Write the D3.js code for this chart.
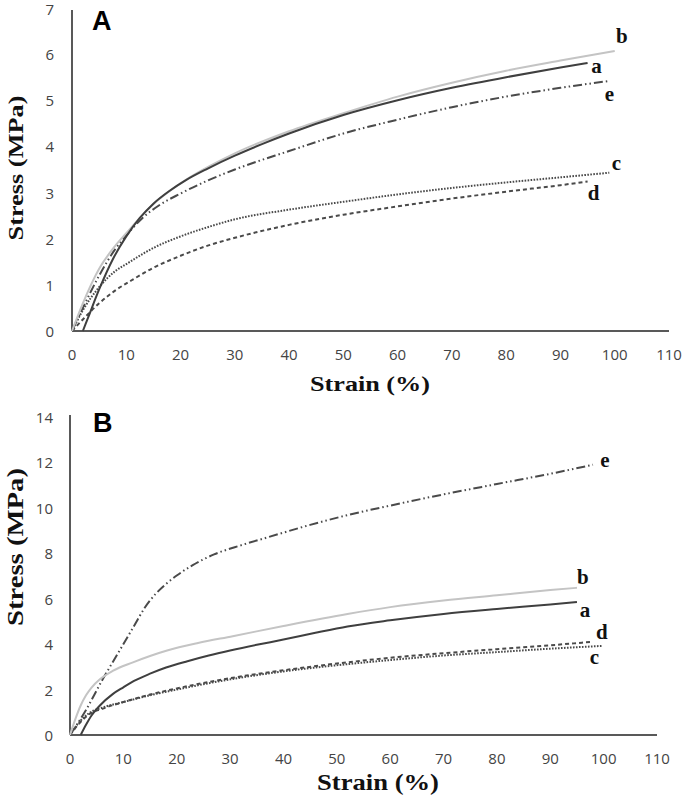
<!DOCTYPE html>
<html><head><meta charset="utf-8">
<script src="https://cdn.jsdelivr.net/npm/d3@7"></script>
<style>body{margin:0;background:#fff}svg{display:block}</style>
</head><body>
<svg id="chart" width="685" height="800"></svg>
<script>
// ---------- DATA ----------
const strainTicks = [0,10,20,30,40,50,60,70,80,90,100,110];
const stressTicksA = [0,1,2,3,4,5,6,7];
const stressTicksB = [0,2,4,6,8,10,12,14];
const seriesNames = ["a","b","c","d","e"];

// Panel A  [strain %, stress MPa]
const A_a = [[2,0],[3,0.3],[5,0.9],[7.5,1.55],[10,2.05],[12.5,2.45],[15,2.76],[18,3.04],[21,3.27],[25,3.52],[30,3.8],[35,4.05],[40,4.28],[50,4.68],[60,5.0],[70,5.27],[80,5.5],[90,5.71],[95,5.81]];
const A_b = [[0,0],[2,0.6],[5,1.35],[8,1.85],[10,2.12],[15,2.75],[20,3.2],[30,3.85],[40,4.33],[50,4.72],[60,5.08],[70,5.38],[80,5.64],[90,5.86],[100,6.07]];
const A_c = [[0,0],[2,0.45],[5,0.95],[8,1.3],[10,1.45],[15,1.8],[20,2.05],[25,2.25],[30,2.42],[40,2.63],[50,2.8],[60,2.96],[70,3.1],[80,3.22],[90,3.33],[99,3.43]];
const A_d = [[0,0],[2,0.25],[5,0.6],[8,0.88],[11,1.1],[15,1.37],[20,1.63],[25,1.85],[30,2.02],[40,2.3],[50,2.52],[60,2.7],[70,2.87],[80,3.02],[90,3.16],[95,3.24]];
const A_e = [[0,0],[2,0.5],[5,1.2],[8,1.78],[10,2.07],[13,2.45],[16,2.72],[20,2.98],[25,3.26],[30,3.5],[40,3.9],[50,4.28],[60,4.58],[70,4.85],[80,5.08],[90,5.27],[99,5.42]];

// Panel B
const B_a = [[2,0],[3,0.45],[4,0.85],[5.6,1.3],[8,1.8],[10,2.1],[12,2.38],[15,2.7],[18,2.97],[22,3.25],[26,3.5],[30,3.72],[35,3.97],[40,4.2],[46,4.5],[52,4.78],[60,5.05],[70,5.33],[80,5.55],[90,5.75],[95,5.86]];
const B_b = [[0,0],[1,0.7],[2,1.3],[3,1.75],[4,2.08],[5.6,2.45],[8,2.82],[11.8,3.2],[15,3.48],[18.2,3.72],[24,4.05],[30.5,4.35],[40,4.8],[52,5.33],[60,5.63],[70,5.92],[80,6.15],[90,6.38],[95,6.48]];
const B_c = [[0,0],[1.5,0.5],[3.5,0.95],[6,1.2],[10,1.45],[15,1.75],[20,2.0],[30,2.45],[40,2.8],[52,3.12],[60,3.3],[70,3.5],[80,3.65],[90,3.8],[99.6,3.92]];
const B_d = [[0,0],[1.5,0.45],[3.5,0.9],[6,1.15],[10,1.45],[15,1.78],[20,2.05],[30,2.5],[40,2.85],[52,3.2],[60,3.4],[70,3.6],[80,3.78],[90,3.95],[97.8,4.1]];
const B_e = [[0,0],[3,1.1],[6,2.4],[9,3.6],[12,4.8],[14,5.6],[16,6.2],[18,6.65],[20,7.02],[23,7.48],[27,7.95],[32,8.35],[37,8.7],[45,9.25],[52,9.68],[60,10.1],[67,10.45],[80,11.05],[90,11.5],[98,11.9]];

// ---------- STYLE ----------
const styles = {
  a:{stroke:"#3f3f3f", dash:null, w:2},
  b:{stroke:"#c4c4c4", dash:null, w:2},
  c:{stroke:"#4a4a4a", dash:"1.6,1.4", w:2},
  d:{stroke:"#4a4a4a", dash:"4,3", w:2},
  e:{stroke:"#4a4a4a", dash:"9,3,1.5,3,1.5,3", w:2}
};

const panels = [
  {letter:"A", data:{a:A_a,b:A_b,c:A_c,d:A_d,e:A_e}, yMax:7, yTicks:stressTicksA,
   x0:72, x1:669, y0:331, y1:8, axisTop:10, tickY:354, labX:54,
   yTitle:{x:15, y:168, len:145, size:22}, xTitle:{x:370, y:384, len:120, size:21},
   letterPos:[92,30],
   labOff:{a:[9,3],b:[7,-15],c:[7,-10],d:[6,12],e:[0,13]}},
  {letter:"B", data:{a:B_a,b:B_b,c:B_c,d:B_d,e:B_e}, yMax:14, yTicks:stressTicksB,
   x0:70, x1:657, y0:735, y1:417, axisTop:415, tickY:758, labX:53,
   yTitle:{x:15, y:547, len:158, size:24}, xTitle:{x:378, y:782, len:122, size:23},
   letterPos:[93,432],
   labOff:{a:[8,8],b:[6,-11],c:[-7,11],d:[10,-10],e:[12,-5]}}
];

const svg = d3.select("#chart");
const axisColor = "#595959";

panels.forEach(p => {
  const x = d3.scaleLinear().domain([0,110]).range([p.x0,p.x1]);
  const y = d3.scaleLinear().domain([0,p.yMax]).range([p.y0,p.y1]);
  const g = svg.append("g");

  g.append("line").attr("x1",x(0)).attr("x2",x(110)).attr("y1",y(0)).attr("y2",y(0))
    .attr("stroke",axisColor).attr("stroke-width",2);
  g.append("line").attr("x1",x(0)).attr("x2",x(0)).attr("y1",y(0)).attr("y2",p.axisTop)
    .attr("stroke",axisColor).attr("stroke-width",2);

  g.selectAll(".xt").data(strainTicks).enter().append("text")
    .attr("x",d=>x(d)).attr("y",p.tickY).attr("text-anchor","middle")
    .attr("dominant-baseline","central")
    .attr("font-family","'Open Sans', 'Noto Sans', sans-serif").attr("font-size",15)
    .attr("fill","#444").text(d=>d);
  g.selectAll(".yt").data(p.yTicks).enter().append("text")
    .attr("x",p.labX).attr("y",d=>Math.max(y(d),9)).attr("text-anchor","end")
    .attr("dominant-baseline","central")
    .attr("font-family","'Open Sans', 'Noto Sans', sans-serif").attr("font-size",15)
    .attr("fill","#444").text(d=>d);

  const line = d3.line().x(d=>x(d[0])).y(d=>y(d[1])).curve(d3.curveMonotoneX);
  seriesNames.slice().reverse().forEach(k=>{
    const s = styles[k];
    g.append("path").datum(p.data[k]).attr("d",line)
      .attr("fill","none").attr("stroke",s.stroke).attr("stroke-width",s.w)
      .attr("stroke-dasharray",s.dash);
  });

  seriesNames.forEach(k=>{
    const pts = p.data[k]; const last = pts[pts.length-1];
    const off = p.labOff[k];
    g.append("text").attr("x",x(last[0])+off[0]).attr("y",y(last[1])+off[1])
      .attr("text-anchor","middle").attr("dominant-baseline","central")
      .attr("font-family","'Liberation Serif', 'Times New Roman', serif")
      .attr("font-weight","bold").attr("font-size",21).attr("fill","#111").text(k);
  });

  g.append("text").attr("transform",`translate(${p.yTitle.x},${p.yTitle.y}) rotate(-90)`)
    .attr("text-anchor","middle").attr("dominant-baseline","central")
    .attr("font-family","'Liberation Serif', 'Times New Roman', serif")
    .attr("font-weight","bold").attr("font-size",p.yTitle.size)
    .attr("textLength",p.yTitle.len).attr("lengthAdjust","spacingAndGlyphs")
    .attr("fill","#111").text("Stress (MPa)");
  g.append("text").attr("x",p.xTitle.x).attr("y",p.xTitle.y)
    .attr("text-anchor","middle").attr("dominant-baseline","central")
    .attr("font-family","'Liberation Serif', 'Times New Roman', serif")
    .attr("font-weight","bold").attr("font-size",p.xTitle.size)
    .attr("textLength",p.xTitle.len).attr("lengthAdjust","spacingAndGlyphs")
    .attr("fill","#111").text("Strain (%)");

  g.append("text").attr("x",p.letterPos[0]).attr("y",p.letterPos[1])
    .attr("font-family","'Liberation Sans', Arial, sans-serif")
    .attr("font-weight","bold").attr("font-size",27).attr("fill","#000").text(p.letter);
});
</script>
</body></html>
